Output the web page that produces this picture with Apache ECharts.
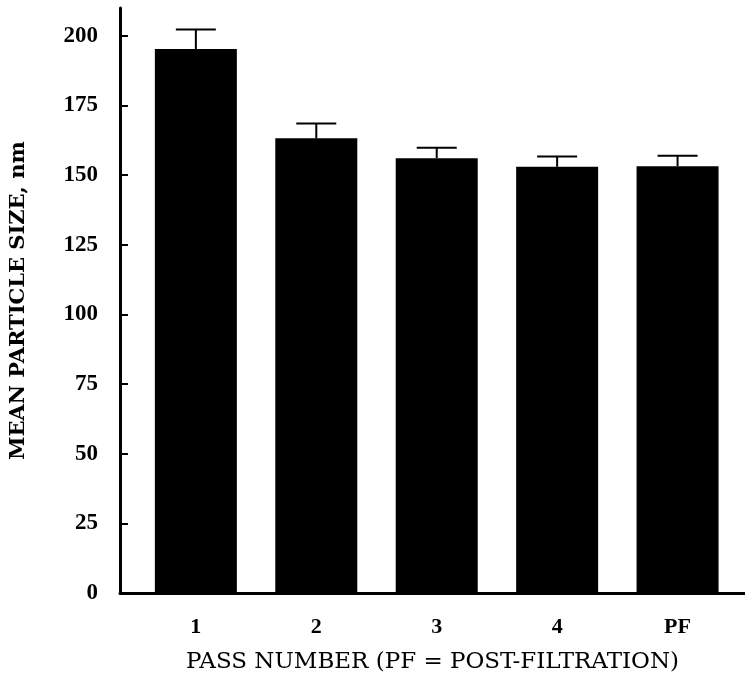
<!DOCTYPE html>
<html>
<head>
<meta charset="utf-8">
<script src="https://cdn.jsdelivr.net/npm/echarts@6/dist/echarts.min.js"></script>
<style>html,body{margin:0;padding:0;background:#fff}#c{width:745px;height:679px}</style>
</head>
<body>
<div id="c"></div>
<script>
const categories = ['1', '2', '3', '4', 'PF'];
const positions = [1, 2, 3, 4, 5];
const meanSize = [195.3, 163.2, 156.1, 153.0, 153.2];
const errorPlus = [7.0, 5.3, 3.7, 3.7, 3.8];
const yTicks = [0, 25, 50, 75, 100, 125, 150, 175, 200];

const FONT = '"Liberation Serif", "DejaVu Serif", serif';
const WIDE = '"DejaVu Serif", "Liberation Serif", serif';
const chart = echarts.init(document.getElementById('c'));
chart.setOption({
  animation: false,
  backgroundColor: '#fff',
  grid: { left: 117, right: 0, top: 8, bottom: 83 },
  xAxis: {
    type: 'value', min: 0.37, max: 5.56,
    splitLine: { show: false },
    axisLine: { lineStyle: { color: '#000', width: 3 } },
    axisTick: { show: false },
    axisLabel: {
      customValues: positions,
      formatter: v => categories[positions.indexOf(v)] || '',
      color: '#000', fontFamily: FONT, fontWeight: 'bold', fontSize: 22, margin: 23
    },
    name: 'PASS NUMBER (PF = POST-FILTRATION)',
    nameLocation: 'middle', nameGap: 58,
    nameTextStyle: { color: '#000', fontFamily: WIDE, fontSize: 23 }
  },
  yAxis: {
    type: 'value', min: 0, max: 210,
    splitLine: { show: false },
    axisLine: { show: true, lineStyle: { color: '#000', width: 3 } },
    axisTick: { show: true, inside: true, length: 8, customValues: yTicks, lineStyle: { color: '#000', width: 2 } },
    axisLabel: { customValues: yTicks, color: '#000', fontFamily: FONT, fontWeight: 'bold', fontSize: 23, margin: 22 },
    name: 'MEAN PARTICLE SIZE, nm',
    nameLocation: 'middle', nameGap: 91, nameRotate: 90,
    nameTextStyle: { color: '#000', fontFamily: WIDE, fontWeight: 'bold', fontSize: 21 }
  },
  series: [
    {
      type: 'bar', barWidth: 82,
      itemStyle: { color: '#000' },
      data: positions.map((p, i) => [p, meanSize[i]])
    },
    {
      type: 'custom',
      z: 5,
      data: positions.map((p, i) => [p, meanSize[i], meanSize[i] + errorPlus[i]]),
      renderItem: function (params, api) {
        const base = api.coord([api.value(0), api.value(1)]);
        const top = api.coord([api.value(0), api.value(2)]);
        const hw = 20;
        return {
          type: 'group',
          children: [
            { type: 'line', shape: { x1: top[0], y1: base[1], x2: top[0], y2: top[1] }, style: { stroke: '#000', lineWidth: 2 } },
            { type: 'line', shape: { x1: top[0] - hw, y1: top[1], x2: top[0] + hw, y2: top[1] }, style: { stroke: '#000', lineWidth: 2 } }
          ]
        };
      }
    }
  ]
});
</script>
</body>
</html>
